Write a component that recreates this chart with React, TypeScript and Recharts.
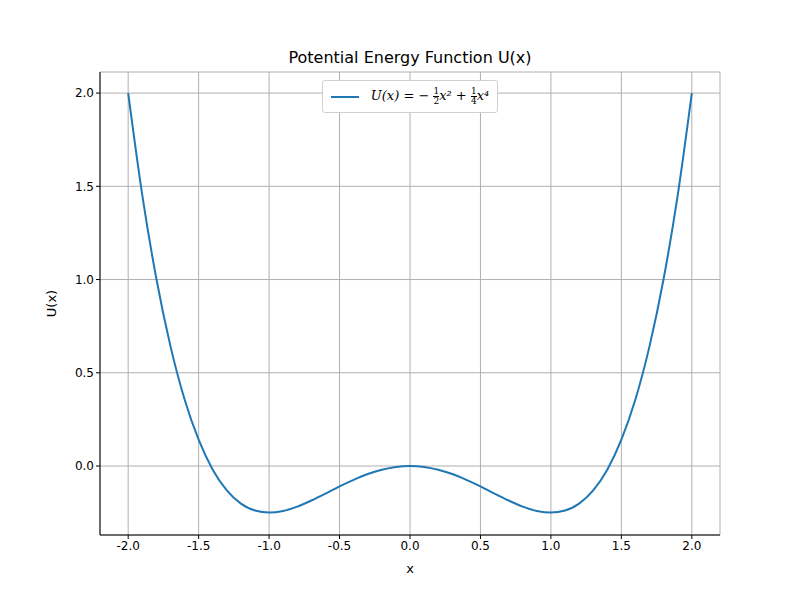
import { LineChart, Line, XAxis, YAxis, CartesianGrid } from "recharts"

const xs = [-2, -1.9, -1.8, -1.7, -1.6, -1.5, -1.4, -1.3, -1.2, -1.1, -1, -0.9, -0.8, -0.7, -0.6, -0.5, -0.4, -0.3, -0.2, -0.1, 0,
    0.1, 0.2, 0.3, 0.4, 0.5, 0.6, 0.7, 0.8, 0.9, 1, 1.1, 1.2, 1.3, 1.4, 1.5, 1.6, 1.7, 1.8, 1.9, 2]
const uValues = [2.0, 1.453, 1.004, 0.643, 0.358, 0.141, -0.020, -0.131, -0.202, -0.239, -0.25, -0.241, -0.218, -0.185, -0.148, -0.109, -0.074, -0.043, -0.020, -0.005, 0,
    -0.005, -0.020, -0.043, -0.074, -0.109, -0.148, -0.185, -0.218, -0.241, -0.25, -0.239, -0.202, -0.131, -0.020, 0.141, 0.358, 0.643, 1.004, 1.453, 2.0]
const xTicks = [-2, -1.5, -1, -0.5, 0, 0.5, 1, 1.5, 2]
const yTicks = [0, 0.5, 1, 1.5, 2]

const data = xs.map((x, i) => ({ x, u: uValues[i] }))

const font = "DejaVu Sans, sans-serif"

const Frac = ({ n, d }: { n: string; d: string }) => (
    <span style={{ display: "inline-flex", flexDirection: "column", fontSize: 9, lineHeight: "9px", verticalAlign: "middle", fontStyle: "normal", textAlign: "center" }}>
        <span style={{ borderBottom: "1px solid #000" }}>{n}</span>
        <span>{d}</span>
    </span>
)

const LegendBox = () => (
    <div style={{ display: "inline-flex", alignItems: "center", background: "#fff", border: "1px solid #d0d0d0", borderRadius: 3, padding: "6px 8px", fontFamily: font, fontSize: 13 }}>
        <span style={{ display: "inline-block", width: 28, height: 2, background: "#1f77b4", marginRight: 12 }} />
        <span style={{ fontFamily: "DejaVu Serif, serif", fontStyle: "italic" }}>
            U(x) = − <Frac n="1" d="2" />x² + <Frac n="1" d="4" />x⁴
        </span>
    </div>
)

export default function App() {
    return (
        <div style={{ position: "absolute", left: 0, top: 0, width: 800, height: 600, background: "#fff" }}>
            <div style={{ position: "absolute", top: 48, left: 0, width: 820, textAlign: "center", fontFamily: font, fontSize: 16 }}>Potential Energy Function U(x)</div>
            <div style={{ position: "absolute", top: 561, left: 100, width: 620, textAlign: "center", fontFamily: font, fontSize: 13 }}>x</div>
            <div style={{ position: "absolute", top: 296, left: 38, transform: "rotate(-90deg)", fontFamily: font, fontSize: 13 }}>U(x)</div>
            <LineChart width={800} height={600} data={data} margin={{ top: 72, right: 80, bottom: 0, left: 0 }}>
                <CartesianGrid stroke="#b0b0b0" />
                <XAxis dataKey="x" type="number" domain={[-2.2, 2.2]} ticks={xTicks} tickFormatter={t => t.toFixed(1)}
                    height={65} stroke="#000" tick={{ fill: "#000", fontSize: 12, fontFamily: font }} tickSize={4} interval={0} />
                <XAxis xAxisId="top" orientation="top" type="number" domain={[-2.2, 2.2]} tick={false} tickLine={false} stroke="#000" height={0} />
                <YAxis type="number" domain={[-0.37, 2.113]} ticks={yTicks} tickFormatter={t => t.toFixed(1)}
                    width={100} stroke="#000" tick={{ fill: "#000", fontSize: 12, fontFamily: font }} tickSize={4} interval={0} />
                <YAxis yAxisId="right" orientation="right" tick={false} tickLine={false} stroke="#000" width={0} />
                <Line dataKey="u" stroke="#1f77b4" strokeWidth={2} dot={false} type="monotone" isAnimationActive={false} />
            </LineChart>
            <div style={{ position: "absolute", top: 80, left: 100, width: 620, textAlign: "center" }}>
                <LegendBox />
            </div>
        </div>
    )
}
